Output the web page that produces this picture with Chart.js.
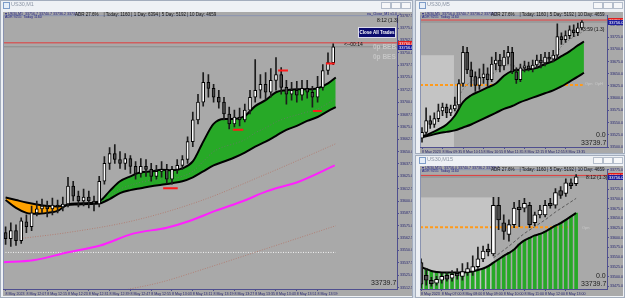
<!DOCTYPE html>
<html>
<head>
<meta charset="utf-8">
<script src="https://cdn.jsdelivr.net/npm/chart.js@4.4.0/dist/chart.umd.min.js"></script>
<style>
body{margin:0;width:625px;height:298px;overflow:hidden;background:#d3dbe6;font-family:"Liberation Sans",Arial,sans-serif;position:relative}
.win{position:absolute;background:#eef1f5;border:1px solid #a3adbd;box-sizing:border-box}
.t{position:absolute;white-space:pre;line-height:1}
.ttl{font-size:5.5px;color:#8b95a5}
.ico{position:absolute;width:5px;height:5px;border:1px solid #7d9cc8;background:#e6eef8}
.btn{position:absolute;width:8px;height:5px;border:1px solid #b4bdcb;background:#f6f7f9}
.hdr{font-size:3.6px;color:#1a1a80}
.adr{font-size:4.5px;color:#111}
.big{font-size:7px;color:#1e1e1e}
canvas{position:absolute;background:#a9a9a9}
</style>
</head>
<body>
<div class="win" style="left:0;top:0;width:413px;height:298px"></div>
<div class="win" style="left:415px;top:0;width:210px;height:154px"></div>
<div class="win" style="left:415px;top:155px;width:210px;height:143px"></div>

<canvas id="m1" width="409" height="284" style="left:3px;top:12px"></canvas>
<canvas id="m5" width="203" height="141" style="left:420px;top:12px"></canvas>
<canvas id="m15" width="203" height="130" style="left:420px;top:166px"></canvas>

<!-- left window -->
<div class="ico" style="left:3px;top:2px"></div>
<div class="t ttl" style="left:11px;top:2px">US30,M1</div>
<div class="btn" style="left:381px;top:2px"></div><div class="btn" style="left:391px;top:2px"></div><div class="btn" style="left:401px;top:2px"></div>
<div class="t hdr" style="left:5px;top:12.5px">▾ US30,M1  33756.7 33740.7 33736.2 33737.7</div>
<div class="t hdr" style="left:5px;top:16px">ADR 9255  Today 1160</div>
<div class="t adr" style="left:75px;top:13px">ADR 27.6%    | Today: 1160 | 1 Day: 6394 | 5 Day: 5192 | 10 Day: 4659</div>
<div class="t hdr" style="left:367px;top:12.5px">ea_Close_M1 v1.0 ☺</div>
<div class="t" style="left:377px;top:18px;font-size:5px;color:#111">8:12 (1.3)</div>
<div class="t" style="left:358px;top:27px;width:36px;height:9px;background:#0b0b6e;border:1px solid #dcdcec;color:#fff;font-size:4.5px;font-weight:bold;line-height:9px;text-align:center">Close All Trades</div>
<div class="t" style="left:344px;top:42px;font-size:5px;color:#111">&lt;--00:14</div>
<div class="t" style="left:373px;top:44px;font-size:6.5px;font-weight:bold;color:#c6c6c6">0p BEB</div>
<div class="t" style="left:373px;top:54px;font-size:6.5px;font-weight:bold;color:#c6c6c6">0p BES</div>
<div class="t big" style="left:371px;top:279px">33739.7</div>

<!-- top right window -->
<div class="ico" style="left:419px;top:2px"></div>
<div class="t ttl" style="left:427px;top:2px">US30,M5</div>
<div class="btn" style="left:593px;top:2px"></div><div class="btn" style="left:603px;top:2px"></div><div class="btn" style="left:613px;top:2px"></div>
<div class="t hdr" style="left:422px;top:12.5px">▾ US30,M5  33756.0 33740.7 33736.2 33739.7</div>
<div class="t hdr" style="left:422px;top:16px">ADR 9255  Today 1160</div>
<div class="t adr" style="left:491px;top:13px">ADR 27.6%    | Today: 1160 | 5 Day: 5192 | 10 Day: 4659</div>
<div class="t" style="left:583px;top:27px;font-size:5px;color:#111">3:59 (1.3)</div>
<div class="t" style="left:585px;top:82px;font-size:4px;color:#c8c8c8">Opn  OpH</div>
<div class="t big" style="left:596px;top:131px">0.0</div>
<div class="t big" style="left:581px;top:139px">33739.7</div>

<!-- bottom right window -->
<div class="ico" style="left:419px;top:157px"></div>
<div class="t ttl" style="left:427px;top:157px">US30,M15</div>
<div class="btn" style="left:593px;top:157px"></div><div class="btn" style="left:603px;top:157px"></div><div class="btn" style="left:613px;top:157px"></div>
<div class="t hdr" style="left:422px;top:166.5px">▾ US30,M15  33756.0 33740.7 33736.2 33739.7</div>
<div class="t hdr" style="left:422px;top:170px">ADR 9255  Today 1160</div>
<div class="t adr" style="left:491px;top:168px">ADR 27.6%    | Today: 1160 | 5 Day: 5192 | 10 Day: 4659</div>
<div class="t" style="left:586px;top:175px;font-size:5px;color:#111">8:12 (1.3)</div>
<div class="t" style="left:582px;top:226px;font-size:4px;color:#c8c8c8">Opn</div>
<div class="t big" style="left:596px;top:272px">0.0</div>
<div class="t big" style="left:581px;top:280px">33739.7</div>

<script>
// shared levels
const redLevel = 33760;
const bidLevel = 33756;
const openLevel = 33627;

// ---- US30 M1 (left) ----
const m1Times = ['8 May 2023','8 May 12:07','8 May 12:15','8 May 12:23','8 May 12:31','8 May 12:39','8 May 12:47','8 May 12:55','8 May 13:03','8 May 13:11','8 May 13:19','8 May 13:27','8 May 13:35','8 May 13:43','8 May 13:51','8 May 13:59'];
const m1Open = [33568,33562,33570,33560,33579,33574,33588,33592,33595,33592,
  33596,33594,33597,33615,33605,33600,33604,33600,33597,33620,
  33638,33648,33642,33638,33643,33635,33628,33635,33632,33625,
  33630,33632,33622,33632,33636,33642,33660,33682,33700,33720,
  33714,33705,33700,33688,33678,33685,33682,33692,33705,33712,
  33718,33710,33722,33728,33715,33708,33712,33707,33714,33710,
  33705,33715,33732,33740];
const m1Close = [33562,33570,33560,33580,33574,33588,33592,33595,33592,33596,
  33594,33597,33615,33605,33600,33604,33600,33597,33620,33638,
  33648,33642,33638,33643,33635,33628,33635,33632,33625,33630,
  33632,33622,33632,33636,33642,33660,33682,33700,33720,33714,
  33705,33700,33688,33678,33685,33682,33692,33705,33712,33718,
  33710,33722,33728,33715,33708,33712,33707,33714,33710,33705,
  33715,33732,33740,33756];
const m1High = [33574,33578,33576,33583,33586,33595,33600,33602,33600,33603,
  33601,33604,33624,33620,33610,33612,33610,33605,33625,33645,
  33654,33657,33650,33648,33646,33640,33643,33642,33638,33636,
  33640,33637,33635,33642,33646,33665,33690,33708,33730,33728,
  33718,33712,33705,33695,33692,33694,33698,33712,33743,33728,
  33730,33734,33745,33735,33722,33720,33721,33722,33722,33716,
  33726,33738,33750,33759];
const m1Low = [33556,33554,33555,33557,33568,33570,33585,33588,33584,33586,
  33588,33590,33594,33600,33594,33595,33593,33590,33594,33617,
  33632,33638,33633,33632,33628,33622,33624,33625,33620,33622,
  33624,33618,33617,33628,33632,33638,33655,33678,33696,33705,
  33700,33694,33682,33673,33675,33676,33680,33688,33700,33704,
  33703,33705,33712,33708,33698,33702,33700,33702,33704,33695,
  33700,33712,33728,33738];
const m1RibbonX = [0,2,4,6,8,10,12,14,16,18,20,22,24,26,28,30,32,34,36,38,40,42,44,46,48,50,52,54,56,58,60,62,63.5];
const m1Fast = [33601,33593,33588,33587,33588,33590,33596.5,33597.5,33598,33599.5,33610,33620,33625,33629,33630,33631.5,33631,33633,33640,33660,33678,33683,33683,33686,33696,33702,33710,33712,33713,33713,33714,33719,33725];
const m1Slow = [33603.5,33601,33598.5,33596.5,33595,33594.5,33596,33596.5,33597,33597.5,33602,33608,33611,33613,33615,33616.5,33618,33620,33624,33630,33636,33640,33644,33649,33655,33660,33666,33672,33676,33681,33685,33691,33695];
const m1MidX = [18,20,22,24,26,28,30,32,34,36,38,40,42,44,46,48,50,52,54,56,58,60,62,63.5];
const m1Mid = [33598.5,33605,33612,33616,33619,33621,33622,33623,33625,33630,33640,33650,33655,33658,33662,33669,33674,33680,33684,33687,33690,33693,33699,33704];
const m1EnvUpX = [2.8,11.8,24.5,37.4,50,56.6,63.5];
const m1EnvUp = [33562,33568,33580,33600,33627,33642,33658];
const m1EnvLoX = [23,30,37.4,50.8,63.5];
const m1EnvLo = [33510,33518,33530,33553,33575];
const m1MagX = [-0.5,5.3,11.8,18.2,24.5,31,35.5,40.3,45.7,50.3,56.6,63.3];
const m1Mag = [33538,33540,33548,33555,33567,33573,33580,33590,33600,33610,33620,33636];
const m1WhiteLevel = 33548;
const m1DashFrom = [30.3,43.7,52.4,59.1,61.6];
const m1DashTo = [33.1,45.7,54.3,60.8,63.3];
const m1DashPrice = [33613,33672,33732,33691,33739];

// ---- US30 M5 (top right) ----
const m5Times = ['8 May 2023','8 May 09:35','8 May 10:15','8 May 10:55','8 May 11:35','8 May 12:15','8 May 12:55','8 May 13:35'];
const m5Open = [33518,33530,33554,33546,33558,33574,33582,33570,33578,33586,
  33630,33694,33658,33644,33626,33642,33650,33638,33670,33678,
  33666,33684,33694,33654,33638,33662,33666,33660,33668,33678,
  33672,33684,33680,33688,33726,33720,33728,33740,33734,33744];
const m5Close = [33530,33554,33546,33558,33574,33582,33570,33578,33586,33630,
  33694,33658,33644,33626,33642,33650,33638,33670,33678,33666,
  33684,33694,33654,33638,33662,33666,33660,33668,33678,33672,
  33684,33680,33688,33726,33720,33728,33740,33734,33744,33756];
const m5High = [33540,33580,33564,33570,33588,33590,33588,33586,33602,33638,
  33706,33704,33674,33654,33660,33670,33662,33684,33694,33690,
  33698,33706,33704,33662,33670,33676,33674,33678,33688,33690,
  33694,33694,33698,33752,33734,33738,33748,33750,33754,33759];
const m5Low = [33510,33526,33538,33540,33552,33564,33560,33564,33574,33580,
  33624,33650,33624,33614,33618,33630,33624,33634,33658,33654,
  33658,33670,33650,33630,33634,33654,33656,33654,33662,33662,
  33666,33674,33674,33682,33710,33714,33722,33726,33728,33740];
const m5RibbonX = [-0.5,2,4,6,8,10,12,14,16,18,20,22,24,26,28,30,32,34,36,38,39.5];
const m5Fast = [33520,33528,33536,33546,33564,33592,33606,33614,33622,33630,33646,33656,33658,33659,33662,33670,33676,33686,33696,33708,33716];
const m5Slow = [33519,33524,33528,33531,33534,33540,33546,33554,33562,33570,33578,33584,33592,33598,33604,33610,33616,33624,33634,33644,33652];
const m5DotX = [8,10,12,14,16,18,20,22,24,26,28,30,32,34,36,38,39.5];
const m5Dot = [33584,33618,33634,33642,33646,33654,33668,33668,33658,33662,33668,33674,33682,33706,33720,33730,33738];
const m5BoxEnd = 7.8;
const m5BoxTop = 33688;

// ---- US30 M15 (bottom right) ----
const m15Times = ['8 May 2023','8 May 07:00','8 May 08:00','8 May 09:00','8 May 10:00','8 May 11:00','8 May 12:00','8 May 13:00'];
const m15Open = [33536,33503.5,33491,33483.5,33491,33503.5,33496,33508.5,33501,33511,
  33513.5,33526,33546,33571,33558.5,33683.5,33638.5,33608.5,33633.5,33678.5,
  33676,33683.5,33638.5,33658.5,33658.5,33688.5,33683.5,33721,33713.5,33741,
  33738.5];
const m15Close = [33481,33491,33482.3,33493.5,33501,33493.5,33506,33502.3,33513.5,33521,
  33526,33546,33566,33563.5,33683.5,33646,33616,33633.5,33676,33672.3,
  33688.5,33633.5,33658.5,33671,33683.5,33682.3,33716,33708.5,33741,33733.5,
  33756];
const m15High = [33546,33521,33498.5,33501,33508.5,33511,33516,33521,33533.5,33536,
  33553.5,33576,33578.5,33583.5,33703.5,33703.5,33658.5,33646,33691,33696,
  33701,33691,33666,33683.5,33696,33701,33726,33731,33751,33751,
  33762];
const m15Low = [33471,33478.5,33476,33478.5,33483.5,33488.5,33488.5,33493.5,33491,33503.5,
  33503.5,33521,33538.5,33553.5,33553.5,33621,33596,33591,33626,33628.5,
  33666,33626,33631,33651,33653.5,33676,33676,33701,33706,33726,
  33733.5];
const m15Ma = [33524.8,33519.8,33514.8,33512.3,33511,33511,33511,33511,33511,33512.3,
  33513.5,33517.3,33521,33527.3,33536,33544.8,33553.5,33561,33569.8,33583.5,
  33593.5,33599.8,33606,33609.8,33616,33623.5,33631,33637.3,33646,33654.8,
  33663.5];
const m15DashX = [14,17,20,22,24,26,28,30];
const m15Dash = [33548.5,33578.5,33611,33628.5,33646,33666,33683.5,33701];
const m15BoxEnd = 14.1;
const m15BoxTop = 33703.5;

// ---- helpers ----
function candles(o, h, l, c, bodyW) {
  return [
    {
      type: 'bar', order: 1, grouped: false, barThickness: bodyW,
      borderSkipped: false, borderWidth: 1, borderColor: '#000',
      backgroundColor: o.map((v, i) => c[i] >= v ? '#ffffff' : '#4e4e4e'),
      data: o.map((v, i) => ({x: i, y: [v, c[i]]}))
    },
    {
      type: 'bar', order: 2, grouped: false, barThickness: 1,
      backgroundColor: '#1c1c1c', borderWidth: 0,
      data: h.map((v, i) => ({x: i, y: [l[i], v]}))
    }
  ];
}

function line(xs, ys, color, width, dash, order, extra) {
  return Object.assign({
    type: 'line', order: order, borderColor: color, borderWidth: width,
    borderDash: dash, pointRadius: 0, fill: false,
    tension: 0.4, cubicInterpolationMode: 'monotone',
    data: xs.map((x, i) => ({x: x, y: ys[i]}))
  }, extra || {});
}

function level(x0, x1, v, color, width, dash, order) {
  return line([x0, x1], [v, v], color, width, dash, order, {tension: 0});
}

function panel(id, cfg) {
  const axisColor = '#4f4f8f';
  const extras = {
    id: 'extras',
    beforeDatasetsDraw(chart) {
      if (!cfg.box) return;
      const {ctx, chartArea: a, scales: {x, y}} = chart;
      const x0 = Math.max(a.left, x.getPixelForValue(cfg.box.from));
      const x1 = x.getPixelForValue(cfg.box.to);
      const y0 = y.getPixelForValue(cfg.box.top);
      ctx.save();
      ctx.fillStyle = '#c4c4c4';
      ctx.fillRect(x0, y0, x1 - x0, a.bottom - y0);
      ctx.restore();
    },
    afterDraw(chart) {
      const {ctx, chartArea: a, scales: {y}} = chart;
      ctx.save();
      ctx.strokeStyle = '#8a93b0';
      ctx.lineWidth = 1;
      ctx.beginPath();
      ctx.moveTo(a.left + 0.5, a.bottom);
      ctx.lineTo(a.left + 0.5, a.top + 0.5);
      ctx.lineTo(a.right, a.top + 0.5);
      ctx.stroke();
      cfg.tags.forEach(t => {
        const py = Math.round(y.getPixelForValue(t.value));
        ctx.fillStyle = t.color;
        ctx.fillRect(a.right + 1, py - 2, chart.width - a.right - 1, 5);
        ctx.fillStyle = '#ffffff';
        ctx.font = '4px "Liberation Sans"';
        ctx.textBaseline = 'middle';
        ctx.fillText(t.value.toFixed(1), a.right + 2, py + 0.5);
      });
      ctx.restore();
    }
  };
  return new Chart(document.getElementById(id), {
    type: 'bar',
    data: {datasets: cfg.datasets},
    options: {
      responsive: false,
      animation: false,
      devicePixelRatio: 1,
      layout: {padding: 0},
      plugins: {legend: {display: false}, tooltip: {enabled: false}},
      scales: {
        x: {
          type: 'linear', min: cfg.xMin, max: cfg.xMax, offset: false,
          afterBuildTicks: s => { s.ticks = cfg.times.map((t, k) => ({value: k * cfg.every})); },
          afterFit: s => { s.height = cfg.xH; },
          ticks: {
            align: 'start', autoSkip: false, maxRotation: 0, padding: 0.5,
            color: '#23236e', font: {size: 3.6, family: 'Liberation Sans'},
            callback: (v, k) => cfg.times[k]
          },
          grid: {drawOnChartArea: false, tickLength: 2, color: axisColor, offset: false},
          border: {color: axisColor}
        },
        y: {
          position: 'right', min: cfg.yMin, max: cfg.yMax,
          afterFit: s => { s.width = cfg.yW; },
          ticks: {
            stepSize: cfg.step, includeBounds: false, padding: 1, autoSkip: false,
            color: '#23236e', font: {size: 3.6, family: 'Liberation Sans'},
            callback: v => v.toFixed(1)
          },
          grid: {drawOnChartArea: false, tickLength: 2, color: axisColor},
          border: {color: axisColor}
        }
      }
    },
    plugins: [extras]
  });
}

const green = '#27a927';
const orange = '#ffa200';

// ---- M1 chart ----
const m1Sets = candles(m1Open, m1High, m1Low, m1Close, 3);
m1DashFrom.forEach((x0, k) => {
  m1Sets.push(level(x0, m1DashTo[k], m1DashPrice[k], '#ff1a1a', 2, [], 0));
});
m1Sets.push(line(m1MidX, m1Mid, '#5f7f5f', 1, [1, 2], 3));
m1Sets.push(line(m1RibbonX, m1Slow, '#000000', 2, [], 4));
m1Sets.push(line(m1RibbonX, m1Fast, '#000000', 2, [], 5, {fill: {target: '-1', above: green, below: orange}}));
m1Sets.push(line(m1MagX, m1Mag, '#ff20ff', 2, [], 6));
m1Sets.push(line(m1EnvUpX, m1EnvUp, '#b07f74', 1, [1, 1.5], 7));
m1Sets.push(line(m1EnvLoX, m1EnvLo, '#b07f74', 1, [1, 1.5], 7));
m1Sets.push(level(-0.5, 63.5, m1WhiteLevel, '#f4f4f4', 1, [1, 1.5], 8));
m1Sets.push(level(-0.5, 76, redLevel, '#e23a3a', 1, [], 9));
m1Sets.push(level(-0.5, 76, bidLevel, '#8c8c8c', 1, [], 9));

panel('m1', {
  datasets: m1Sets, times: m1Times, every: 4,
  xMin: -0.5, xMax: 75.27, xH: 7,
  yMin: 33511, yMax: 33788, yW: 15, step: 12.5,
  tags: [{value: redLevel, color: '#e01c1c'}, {value: bidLevel, color: '#1c1c9c'}]
});

// ---- M5 chart ----
const m5Sets = candles(m5Open, m5High, m5Low, m5Close, 3);
m5Sets.push(line(m5DotX, m5Dot, '#7a7a7a', 1, [2, 1.5], 3));
m5Sets.push(line(m5RibbonX, m5Slow, '#000000', 2, [], 4));
m5Sets.push(line(m5RibbonX, m5Fast, '#000000', 2, [], 5, {fill: {target: '-1', above: green, below: orange}}));
m5Sets.push(level(-0.49, 39.2, openLevel, '#ff9a1a', 2, [3, 2], 6));
m5Sets.push(level(-0.49, 46, redLevel, '#e23a3a', 1, [], 9));
m5Sets.push(level(-0.49, 46, bidLevel, '#8c8c8c', 1, [], 9));

panel('m5', {
  datasets: m5Sets, times: m5Times, every: 5,
  xMin: -0.49, xMax: 45.12, xH: 6,
  yMin: 33500, yMax: 33770, yW: 16, step: 25,
  box: {from: -0.49, to: m5BoxEnd, top: m5BoxTop},
  tags: [{value: redLevel, color: '#e01c1c'}, {value: bidLevel, color: '#1c1c9c'}]
});

// ---- M15 chart ----
const m15Sets = candles(m15Open, m15High, m15Low, m15Close, 4);
m15Sets.push(line(m15DashX, m15Dash, '#5a5a5a', 1, [3, 2], 3));
m15Sets.push(line(m15Ma.map((v, i) => i), m15Ma, '#000000', 2, [], 4));
m15Sets.push({
  type: 'bar', order: 5, grouped: false, barThickness: 3,
  backgroundColor: green, borderWidth: 0,
  data: m15Ma.map((v, i) => ({x: i, y: [33400, v]}))
});
m15Sets.push(level(-0.2, 30.3, openLevel, '#ff9a1a', 2, [3, 2], 6));
m15Sets.push(level(-0.2, 36, redLevel, '#e23a3a', 1, [], 9));
m15Sets.push(level(-0.2, 36, bidLevel, '#8c8c8c', 1, [], 9));

panel('m15', {
  datasets: m15Sets, times: m15Times, every: 4,
  xMin: -0.2, xMax: 35.97, xH: 7,
  yMin: 33468.5, yMax: 33776, yW: 16, step: 25,
  box: {from: -0.2, to: m15BoxEnd, top: m15BoxTop},
  tags: [{value: redLevel, color: '#e01c1c'}, {value: bidLevel, color: '#1c1c9c'}]
});
</script>
</body>
</html>
